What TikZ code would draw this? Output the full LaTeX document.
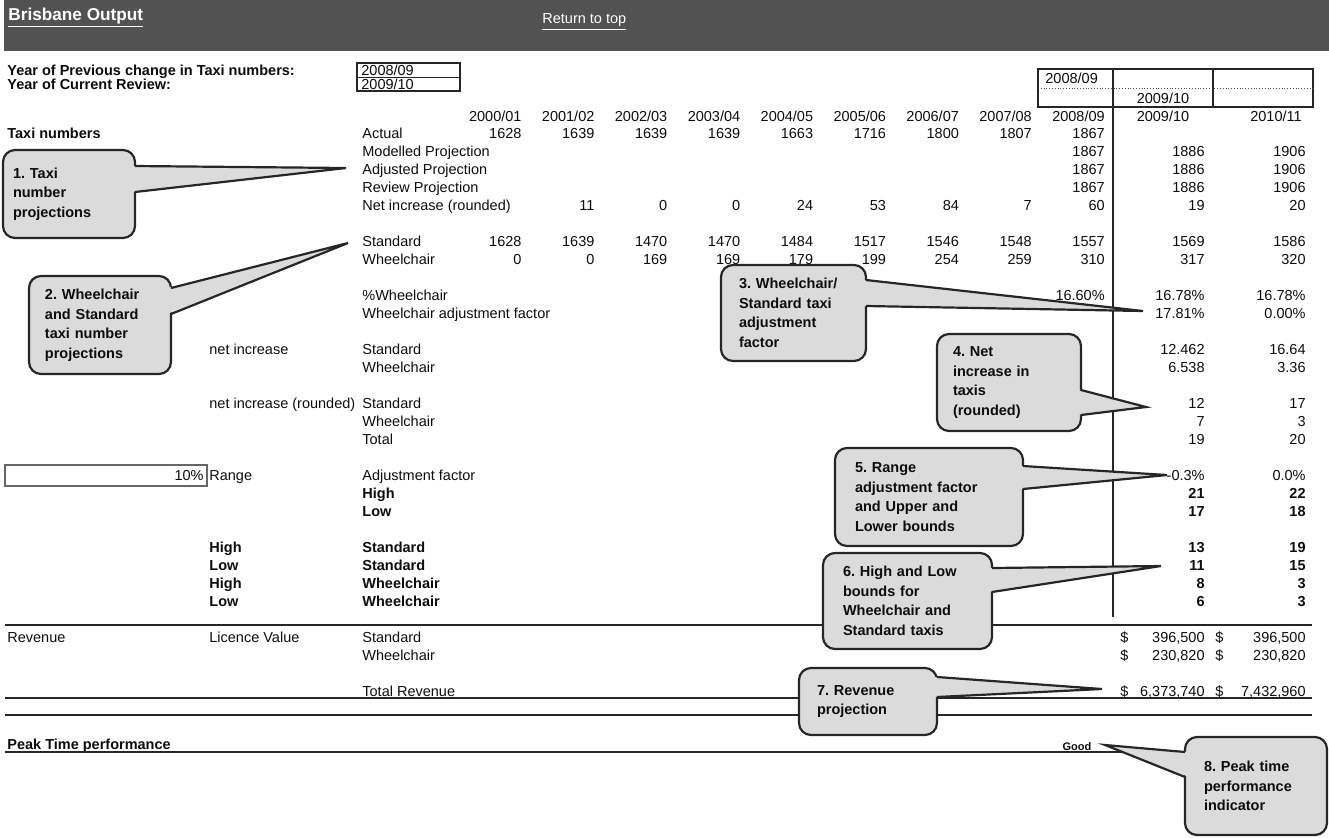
\documentclass[tikz,border=0pt]{standalone}
\usepackage{fontspec}
\setmainfont{Liberation Sans}
\usetikzlibrary{calc}
\newcommand{\colx}[1]{{#1<10 ? 449+72.9*#1 : 1205+101*(#1-10)}}
\begin{document}
\frenchspacing
\begin{tikzpicture}[x=0.5pt,y=-0.5pt,
    every node/.style={font=\fontsize{7.25}{9.75}\selectfont,text=black!95},
    lbl/.style={anchor=west,inner sep=0pt,text height=5.2pt,text depth=0pt},
    num/.style={anchor=east,inner sep=0pt,text height=5.2pt,text depth=0pt},
    mid/.style={inner sep=0pt,text height=5.2pt,text depth=0pt},
    bold/.style={font=\fontsize{7.25}{9.75}\selectfont\bfseries},
    rule/.style={black!85,line width=0.7pt},
    callout/.style={draw=black!85,line width=1.1pt,fill=black!14,rounded corners=6pt,
        align=left,inner sep=0pt,outer sep=0pt,font=\fontsize{7.25}{9.75}\selectfont\bfseries},
    wedge/.style={black!85,line width=1.1pt,line join=miter},
    wedgefill/.style={fill=black!14}]
    \useasboundingbox (0,0) rectangle (1329,837);

    % title bar
    \fill[black!68] (4,0) rectangle (1329,51);
    \node[lbl,text=white,font=\fontsize{8.6}{10}\selectfont\bfseries] (title) at (8,15) {\underline{Brisbane Output}};
    \node[lbl,text=white] (totop) at (542,18) {\underline{Return to top}};

    % review years
    \node[lbl,bold] (prevlbl) at (7,70) {Year of Previous change in Taxi numbers:};
    \node[lbl,bold] (curlbl) at (7,84) {Year of Current Review:};
    \draw[black!85,line width=0.6pt] (357,63) rectangle (460,91);
    \draw[black!85,line width=0.4pt] (357,77) -- (460,77);
    \node[lbl] (prevyr) at (361,70) {2008/09};
    \node[lbl] (curyr) at (361,84) {2009/10};

    \draw[black!85,line width=0.6pt] (1038,69) rectangle (1313,107);
    \draw[black!85,line width=0.6pt] (1213,69) -- (1213,107);
    \draw[black!70,densely dotted] (1038,88) -- (1313,88);
    \draw[black!85,line width=1pt] (1113,69) -- (1113,617);
    \node[lbl] (boxprev) at (1045,78) {2008/09};
    \node[mid] (boxcur) at (1163,98) {2009/10};

    % column headers
    \foreach \a/\b [count=\i] in {2000/01,2001/02,2002/03,2003/04,2004/05,2005/06,2006/07,2007/08,2008/09}
        \node[num] (yr\i) at (\colx{\i},116) {\a/\b};
    \node[mid] (yr10) at (1163,116) {2009/10};
    \node[mid] (yr11) at (1276,116) {2010/11};

    % row labels
    \node[lbl,bold] (taxi) at (7,133) {Taxi numbers};
    \node[lbl] (revenue) at (7,637) {Revenue};
    \node[lbl,bold] (peak) at (7,744) {Peak Time performance};
    \foreach \r/\t [count=\i] in {133/Actual,151/Modelled Projection,169/Adjusted Projection,
        187/Review Projection,205/Net increase (rounded),241/Standard,259/Wheelchair,
        295/\%Wheelchair,313/Wheelchair adjustment factor,349/Standard,367/Wheelchair,
        403/Standard,421/Wheelchair,439/Total,475/Adjustment factor,637/Standard,
        655/Wheelchair,691/Total Revenue}
        \node[lbl] (row\i) at (362,\r) {\t};
    \foreach \r/\t [count=\i] in {493/High,511/Low,547/Standard,565/Standard,583/Wheelchair,601/Wheelchair}
        \node[lbl,bold] (brow\i) at (362,\r) {\t};
    \node[lbl] (netinc) at (209,349) {net increase};
    \node[lbl] (netrnd) at (209,403) {net increase (rounded)};
    \node[lbl] (rangelbl) at (209,475) {Range};
    \node[lbl] (licence) at (209,637) {Licence Value};
    \foreach \r/\t [count=\i] in {547/High,565/Low,583/High,601/Low}
        \node[lbl,bold] (bound\i) at (209,\r) {\t};
    \draw[black!60,line width=0.6pt] (5,465) rectangle (207,486);
    \node[num] (range) at (204,475) {10\%};

    % rules
    \draw[rule] (5,625) -- (1312,625);
    \draw[rule] (5,698) -- (1312,698);
    \draw[rule] (5,715) -- (1312,715);
    \draw[rule] (5,752) -- (1185,752);

    % values
    \foreach \v [count=\i] in {1628,1639,1639,1639,1663,1716,1800,1807,1867}
        \node[num] (act\i) at (\colx{\i},133) {\v};
    \foreach \r/\n in {151/mod,169/adj,187/rev}{
        \node[num] (\n9) at (\colx{9},\r) {1867};
        \node[num] (\n10) at (\colx{10},\r) {1886};
        \node[num] (\n11) at (\colx{11},\r) {1906};}
    \foreach \v [count=\i from 2] in {11,0,0,24,53,84,7,60,19,20}
        \node[num] (net\i) at (\colx{\i},205) {\v};
    \foreach \v [count=\i] in {1628,1639,1470,1470,1484,1517,1546,1548,1557,1569,1586}
        \node[num] (std\i) at (\colx{\i},241) {\v};
    \foreach \v [count=\i] in {0,0,169,169,179,199,254,259,310,317,320}
        \node[num] (whl\i) at (\colx{\i},259) {\v};
    \foreach \v [count=\i from 9] in {16.60\%,16.78\%,16.78\%}
        \node[num] (pct\i) at (\colx{\i},295) {\v};
    \foreach \r/\n/\a/\b in {313/waf/17.81\%/0.00\%,349/nis/12.462/16.64,367/niw/6.538/3.36,
        403/nrs/12/17,421/nrw/7/3,439/nrt/19/20,475/adf/-0.3\%/0.0\%}{
        \node[num] (\n10) at (\colx{10},\r) {\a};
        \node[num] (\n11) at (\colx{11},\r) {\b};}
    \foreach \r/\n/\a/\b in {493/hi/21/22,511/lo/17/18,547/hs/13/19,565/ls/11/15,583/hw/8/3,601/lw/6/3}{
        \node[num,bold] (\n10) at (\colx{10},\r) {\a};
        \node[num,bold] (\n11) at (\colx{11},\r) {\b};}
    \node[lbl] (ds1) at (1120,637) {\$};
    \node[num] (lvs10) at (1205,637) {396,500};
    \node[lbl] (ds2) at (1215,637) {\$};
    \node[num] (lvs11) at (1306,637) {396,500};
    \node[lbl] (ds3) at (1120,655) {\$};
    \node[num] (lvw10) at (1205,655) {230,820};
    \node[lbl] (ds4) at (1215,655) {\$};
    \node[num] (lvw11) at (1306,655) {230,820};
    \node[lbl] (ds5) at (1120,691) {\$};
    \node[num] (tot10) at (1205,691) {6,373,740};
    \node[lbl] (ds6) at (1215,691) {\$};
    \node[num] (tot11) at (1306,691) {7,432,960};
    \node[mid,font=\fontsize{5.5}{6}\selectfont\bfseries] (good) at (1077,745) {Good};

    % callouts
    \node[callout,minimum width=66pt,minimum height=44pt,text width=56pt] (c1) at (69,194)
        {1. Taxi\\number\\projections};
    \coordinate (t1) at (346,168);
    \fill[wedgefill] ($(c1.north east)+(-4,16)$) -- (t1) -- ($(c1.north east)+(-4,42)$) -- cycle;
    \draw[wedge] ($(c1.north east)+(0,16)$) -- (t1) -- ($(c1.north east)+(0,42)$);

    \node[callout,minimum width=71pt,minimum height=49pt,text width=55pt] (c2) at (100,325)
        {2. Wheelchair\\and Standard\\taxi number\\projections};
    \coordinate (t2) at (348,243);
    \fill[wedgefill] ($(c2.north east)+(-4,12)$) -- (t2) -- ($(c2.north east)+(-4,38)$) -- cycle;
    \draw[wedge] ($(c2.north east)+(0,12)$) -- (t2) -- ($(c2.north east)+(0,38)$);

    \node[callout,minimum width=72.5pt,minimum height=48pt,text width=54.5pt] (c3) at (793.5,313)
        {3. Wheelchair/\\Standard taxi\\adjustment\\factor};
    \coordinate (t3) at (1143,311);
    \fill[wedgefill] ($(c3.north east)+(-4,15)$) -- (t3) -- ($(c3.north east)+(-4,41)$) -- cycle;
    \draw[wedge] ($(c3.north east)+(0,15)$) -- (t3) -- ($(c3.north east)+(0,41)$);

    \node[callout,minimum width=72pt,minimum height=48.5pt,text width=56pt] (c4) at (1009,382.5)
        {4. Net\\increase in\\taxis\\(rounded)};
    \coordinate (t4) at (1146,407);
    \fill[wedgefill] ($(c4.north east)+(-4,56)$) -- (t4) -- ($(c4.north east)+(-4,81)$) -- cycle;
    \draw[wedge] ($(c4.north east)+(0,56)$) -- (t4) -- ($(c4.north east)+(0,81)$);

    \node[callout,minimum width=94pt,minimum height=49pt,text width=74pt] (c5) at (929,497)
        {5. Range\\adjustment factor\\and Upper and\\Lower bounds};
    \coordinate (t5) at (1167,475);
    \fill[wedgefill] ($(c5.north east)+(-4,18)$) -- (t5) -- ($(c5.north east)+(-4,41)$) -- cycle;
    \draw[wedge] ($(c5.north east)+(0,18)$) -- (t5) -- ($(c5.north east)+(0,41)$);

    \node[callout,minimum width=84.5pt,minimum height=48pt,text width=64.5pt] (c6) at (907.5,601)
        {6. High and Low\\bounds for\\Wheelchair and\\Standard taxis};
    \coordinate (t6) at (1161,566);
    \fill[wedgefill] ($(c6.north east)+(-4,15)$) -- (t6) -- ($(c6.north east)+(-4,39)$) -- cycle;
    \draw[wedge] ($(c6.north east)+(0,15)$) -- (t6) -- ($(c6.north east)+(0,39)$);

    \node[callout,minimum width=69pt,minimum height=33.5pt,text width=51pt] (c7) at (868,701.5)
        {7. Revenue\\projection};
    \coordinate (t7) at (1102,689);
    \fill[wedgefill] ($(c7.north east)+(-4,9)$) -- (t7) -- ($(c7.north east)+(-4,29)$) -- cycle;
    \draw[wedge] ($(c7.north east)+(0,9)$) -- (t7) -- ($(c7.north east)+(0,29)$);

    \node[callout,minimum width=71pt,minimum height=49pt,text width=52pt] (c8) at (1256,786)
        {8. Peak time\\performance\\indicator};
    \coordinate (t8) at (1105,745);
    \fill[wedgefill] ($(c8.north west)+(4,15)$) -- (t8) -- ($(c8.north west)+(4,40)$) -- cycle;
    \draw[wedge] ($(c8.north west)+(0,15)$) -- (t8) -- ($(c8.north west)+(0,40)$);
\end{tikzpicture}
\end{document}
